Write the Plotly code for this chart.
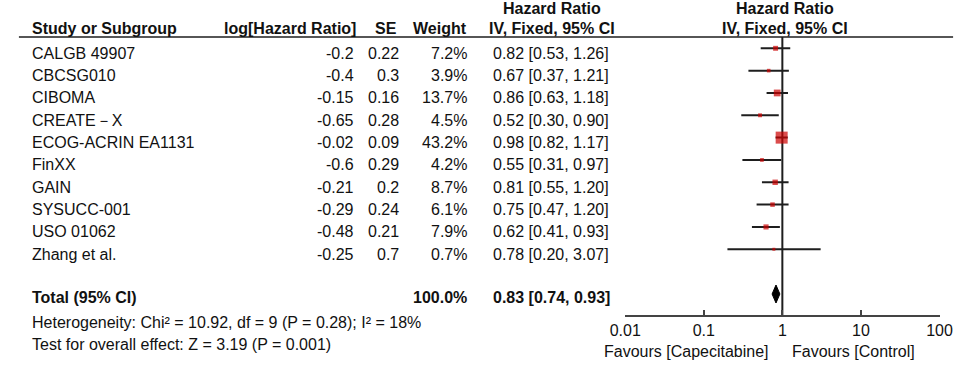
import math
import plotly.graph_objects as go

# ---------------- data ----------------
studies = ["CALGB 49907", "CBCSG010", "CIBOMA", "CREATE－X", "ECOG-ACRIN EA1131",
           "FinXX", "GAIN", "SYSUCC-001", "USO 01062", "Zhang et al."]
log_hr = [-0.2, -0.4, -0.15, -0.65, -0.02, -0.6, -0.21, -0.29, -0.48, -0.25]
se = [0.22, 0.3, 0.16, 0.28, 0.09, 0.29, 0.2, 0.24, 0.21, 0.7]
weight = [7.2, 3.9, 13.7, 4.5, 43.2, 4.2, 8.7, 6.1, 7.9, 0.7]
hr = [0.82, 0.67, 0.86, 0.52, 0.98, 0.55, 0.81, 0.75, 0.62, 0.78]
ci_low = [0.53, 0.37, 0.63, 0.30, 0.82, 0.31, 0.55, 0.47, 0.41, 0.20]
ci_high = [1.26, 1.21, 1.18, 0.90, 1.17, 0.97, 1.20, 1.20, 0.93, 3.07]
total_label = "Total (95% CI)"
total_weight = 100.0
total_hr, total_low, total_high = 0.83, 0.74, 0.93
heterogeneity = "Heterogeneity: Chi² = 10.92, df = 9 (P = 0.28); I² = 18%"
overall_effect = "Test for overall effect: Z = 3.19 (P = 0.001)"
tick_vals = [0.01, 0.1, 1, 10, 100]
tick_text = ["0.01", "0.1", "1", "10", "100"]
favours_left = "Favours [Capecitabine]"
favours_right = "Favours [Control]"

# ---------------- layout helpers ----------------
W, H = 969, 365
ROW0, ROWH = 48.3, 22.33          # pixel y of first CI line, row pitch
FONT = "Liberation Sans, Arial, sans-serif"
FS = 16
TXT = "#111111"


def row(py):
    return (py - ROW0) / ROWH


def px(x):
    return x / W


n = len(studies)
rows = list(range(n))
TEXT_OFF = 5 / ROWH
total_row = row(294)

annotations = []


def add_text(text, x, y, anchor="left", bold=False, size=FS):
    annotations.append(dict(
        text=f"<b>{text}</b>" if bold else text,
        x=px(x), xref="paper", y=y, yref="y",
        xanchor=anchor, yanchor="middle", showarrow=False,
        font=dict(family=FONT, size=size, color=TXT)))


# column headers
hdr_y = row(28)
add_text("Study or Subgroup", 14, hdr_y, "left", True)
add_text("log[Hazard Ratio]", 353, hdr_y, "right", True)
add_text("SE", 395, hdr_y, "right", True)
add_text("Weight", 467, hdr_y, "right", True)
add_text("Hazard Ratio", 553, row(8), "center", True)
add_text("IV, Fixed, 95% CI", 553, hdr_y, "center", True)
add_text("Hazard Ratio", 793, row(8), "center", True)
add_text("IV, Fixed, 95% CI", 793, hdr_y, "center", True)

# study rows
for i in rows:
    y = i + TEXT_OFF
    add_text(studies[i], 14, y, "left")
    add_text(str(log_hr[i]), 350, y, "right")
    add_text(str(se[i]), 397, y, "right")
    add_text(f"{weight[i]:.1f}%", 467, y, "right")
    add_text(f"{hr[i]:.2f} [{ci_low[i]:.2f}, {ci_high[i]:.2f}]", 490, y, "left")

# total
ty = row(297)
add_text(total_label, 14, ty, "left", True)
add_text(f"{total_weight:.1f}%", 467, ty, "right", True)
add_text(f"{total_hr:.2f} [{total_low:.2f}, {total_high:.2f}]", 490, ty, "left", True)
add_text(heterogeneity, 14, row(322), "left")
add_text(overall_effect, 14, row(344), "left")

# favours
add_text(favours_left, 778, row(351), "right")
add_text(favours_right, 798, row(351), "left")

# ---------------- traces ----------------
fig = go.Figure()

# CI lines
cx, cy = [], []
for i in rows:
    cx += [ci_low[i], ci_high[i], None]
    cy += [i, i, None]
fig.add_trace(go.Scatter(x=cx, y=cy, mode="lines",
                         line=dict(color="#1e1e1e", width=2),
                         hoverinfo="skip", showlegend=False, cliponaxis=False))

# null line
fig.add_trace(go.Scatter(x=[1, 1], y=[row(37), row(316)], mode="lines",
                         line=dict(color="#1e1e1e", width=2),
                         hoverinfo="skip", showlegend=False))

# weight squares
sizes = [max(3.0, 1.83 * math.sqrt(w)) for w in weight]
fig.add_trace(go.Scatter(x=hr, y=rows, mode="markers",
                         marker=dict(symbol="square", size=sizes, color="#cc0000",
                                     line=dict(width=0)),
                         showlegend=False, cliponaxis=False))

# total diamond
dh = 9 / ROWH
fig.add_trace(go.Scatter(
    x=[total_low, total_hr, total_high, total_hr, total_low],
    y=[total_row, total_row - dh, total_row, total_row + dh, total_row],
    mode="lines", fill="toself", fillcolor="#000000",
    line=dict(color="#000000", width=1), showlegend=False, hoverinfo="skip"))

# header underline
shapes = [dict(type="line", xref="paper", yref="y",
               x0=px(3), x1=px(966), y0=row(37), y1=row(37),
               line=dict(color="#1e1e1e", width=1.5))]

fig.update_layout(
    width=W, height=H,
    margin=dict(l=0, r=0, t=0, b=0),
    paper_bgcolor="white", plot_bgcolor="rgba(0,0,0,0)",
    annotations=annotations, shapes=shapes,
    xaxis=dict(type="log", range=[-2, 2], domain=[px(628), px(952)],
               anchor="free", position=(H - 316) / H,
               showline=True, linecolor="#444444", linewidth=1.5,
               ticks="inside", ticklen=5, tickwidth=1.5, tickcolor="#444444",
               tickvals=tick_vals, ticktext=tick_text,
               tickfont=dict(family=FONT, size=FS, color=TXT),
               showgrid=False, zeroline=False, fixedrange=True),
    yaxis=dict(range=[row(H), row(0)], visible=False, domain=[0, 1],
               showgrid=False, zeroline=False, fixedrange=True),
    font=dict(family=FONT, size=FS, color=TXT),
)

fig.write_html(
    "out.html",
    config={"displayModeBar": False},
    post_script="document.body.style.margin='0';document.body.style.overflow='hidden';",
)
